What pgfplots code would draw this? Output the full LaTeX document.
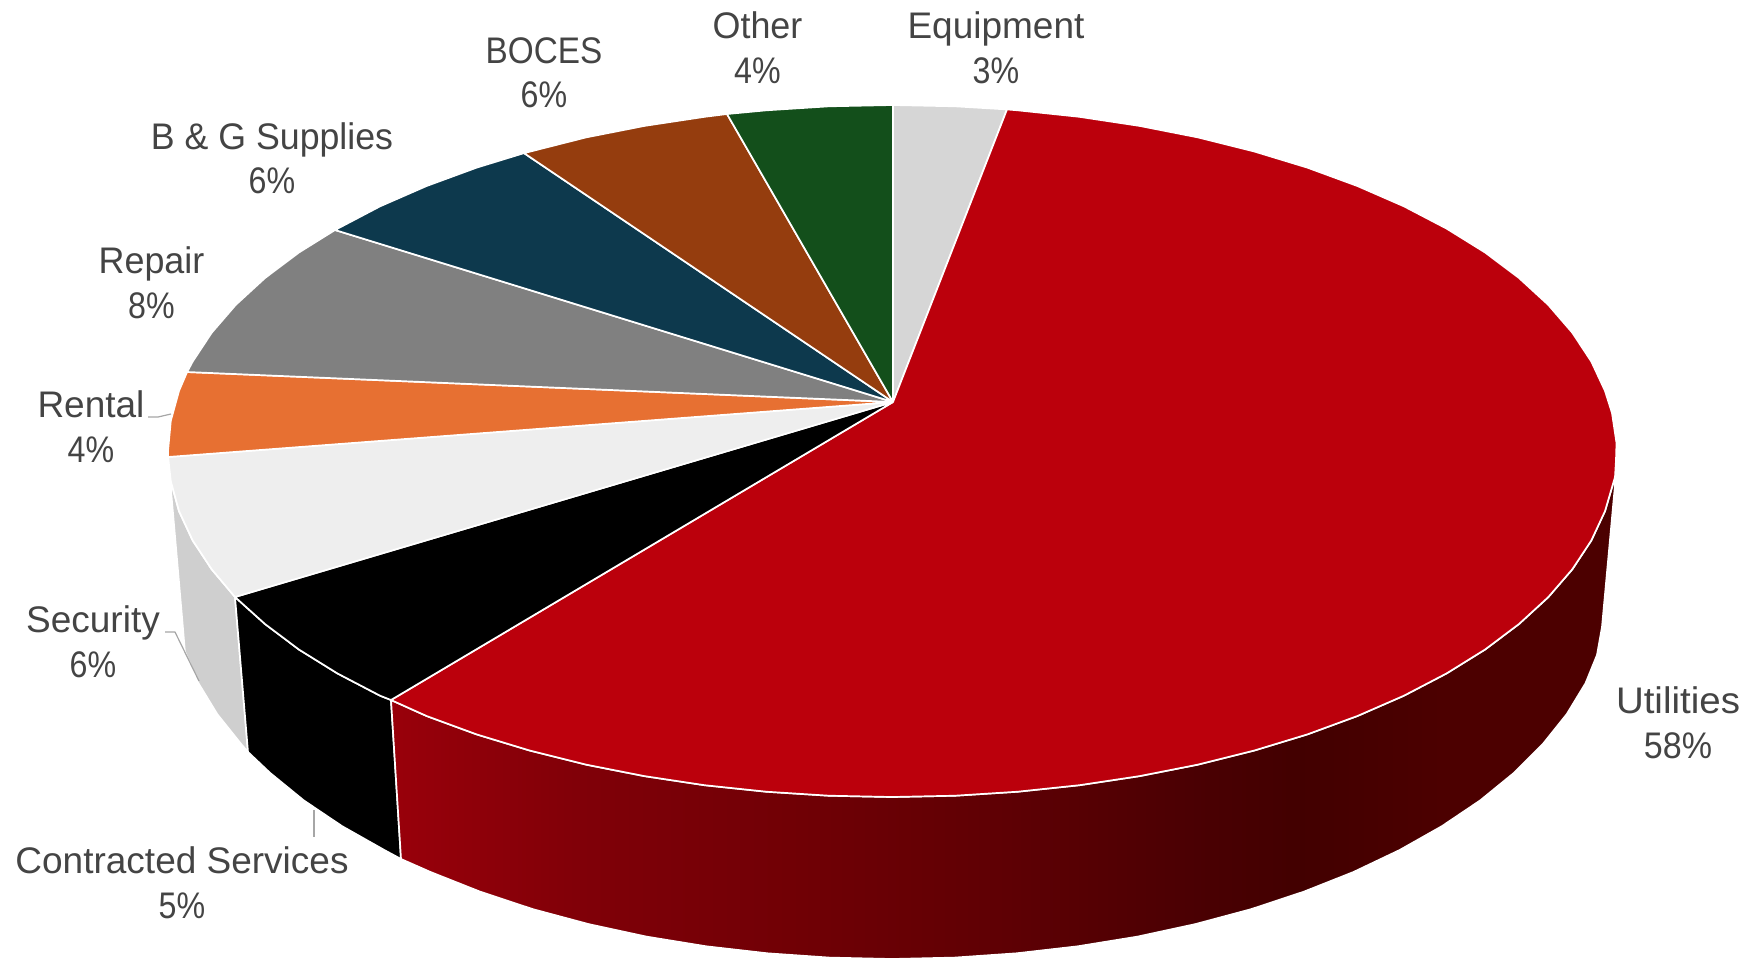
\documentclass[border=0pt]{standalone}
\usepackage{fontspec}
\setmainfont{Liberation Sans}
\usepackage{graphicx}
\usepackage{pgfplots}
\pgfplotsset{compat=1.18}

\definecolor{utilred}{RGB}{187,0,12}
\definecolor{bgblue}{RGB}{13,57,77}
\definecolor{bocesbrown}{RGB}{149,61,14}
\definecolor{othergreen}{RGB}{19,79,27}
\definecolor{equipgrey}{RGB}{214,214,214}
\definecolor{repairgrey}{RGB}{128,128,128}
\definecolor{rentalorange}{RGB}{231,112,50}
\definecolor{secgrey}{RGB}{238,238,238}
\definecolor{secrim}{RGB}{207,207,207}
\definecolor{labeltext}{RGB}{68,68,68}
\definecolor{leader}{RGB}{166,166,166}

% Side wall of the largest slice: dark red running left to right
\pgfdeclarehorizontalshading{utilrim}{100bp}{
  rgb(0bp)=(0.60,0,0.04);
  rgb(25bp)=(0.60,0,0.04);
  rgb(33bp)=(0.50,0,0.03);
  rgb(41.7bp)=(0.44,0,0.02);
  rgb(50bp)=(0.37,0,0.015);
  rgb(58bp)=(0.29,0,0.01);
  rgb(62.2bp)=(0.26,0,0);
  rgb(68.3bp)=(0.30,0,0);
  rgb(75bp)=(0.30,0,0);
  rgb(100bp)=(0.30,0,0)}

% centre x, first baseline, second baseline, name, share, name width factor, share width factor
\newcommand{\pielabel}[7]{%
  \node[anchor=base,text=labeltext] at (axis cs:#1,#2) {\scalebox{#6}[1]{#4}};
  \node[anchor=base,text=labeltext] at (axis cs:#1,#3) {\scalebox{#7}[1]{#5\%}};
}

\begin{document}
\fontsize{18.5pt}{22.5pt}\selectfont
\begin{tikzpicture}
\path[use as bounding box] (0,0) rectangle (878.5pt,480pt);
\begin{axis}[
  at={(0,0)}, anchor=south west,
  scale only axis, width=878.5pt, height=480pt,
  xmin=0, xmax=1757, ymin=0, ymax=960, y dir=reverse,
  hide axis, clip=false,
  every axis plot/.append style={no markers, line join=round, draw=white, line width=0.85pt, solid},
]
% Side walls
\addplot[fill=secrim] coordinates {
  (170.8,481.2) (179,511.1) (192.7,540.5) (211.7,569.3) (235,597)
  (248,752) (241.3,744.2) (217.3,714.2) (198.5,683.3) (184.9,651.6)
  (182,617) (170.8,488) (170.8,481.2)};
\addplot[fill=black] coordinates {
  (235,597) (265,624) (298.9,649.5) (337.4,673.4) (380.1,695.7) (391,700)
  (401,859) (384.3,850) (342,826.1) (303.8,800.4) (270.2,773) (248,752)
  (235,597)};
\addplot[shading=utilrim] coordinates {
  (391,700) (426.6,716) (476.7,734.4) (530,750.6) (586,764.6) (644.4,776.1)
  (704.6,785.2) (766.3,791.7) (828.9,795.7) (892,797) (955.1,795.7)
  (1017.7,791.7) (1079.4,785.2) (1139.6,776.1) (1198,764.6) (1254,750.6)
  (1307.3,734.4) (1357.4,716) (1403.9,695.7) (1446.6,673.4) (1485.1,649.5)
  (1519,624) (1548.2,597.2) (1572.3,569.3) (1591.3,540.5) (1605,511.1)
  (1615,477) (1615,485) (1602,627) (1597,655) (1585.5,683.3)
  (1566.7,714.2) (1542.7,744.2) (1513.8,773) (1480.2,800.4) (1442,826.1)
  (1399.7,850) (1353.5,872) (1303.8,891.7) (1251,909.2) (1195.4,924.1)
  (1137.6,936.6) (1077.8,946.3) (1016.6,953.3) (954.6,957.6) (892,959)
  (829.4,957.6) (767.4,953.3) (706.2,946.3) (646.4,936.6) (588.6,924.1)
  (533,909.2) (480.2,891.7) (430.5,872) (401,859) (391,700)};
% Top face, one wedge per category
\addplot[fill=equipgrey] coordinates {
  (893,402) (893,105) (955.1,106.3) (1007,109.4) (893,402)};
\addplot[fill=utilred] coordinates {
  (893,402) (1007,109.4) (1017.7,110.3) (1079.4,116.8) (1139.6,125.9)
  (1198,137.4) (1254,151.4) (1307.3,167.6) (1357.4,186) (1403.9,206.3)
  (1446.6,228.6) (1485.1,252.5) (1519,278) (1548.2,304.8) (1572.3,332.7)
  (1591.3,361.5) (1605,390.9) (1612,413) (1616.5,443) (1616,460) (1615,477)
  (1605,511.1) (1591.3,540.5) (1572.3,569.3) (1548.2,597.2) (1519,624)
  (1485.1,649.5) (1446.6,673.4) (1403.9,695.7) (1357.4,716) (1307.3,734.4)
  (1254,750.6) (1198,764.6) (1139.6,776.1) (1079.4,785.2) (1017.7,791.7)
  (955.1,795.7) (892,797) (828.9,795.7) (766.3,791.7) (704.6,785.2)
  (644.4,776.1) (586,764.6) (530,750.6) (476.7,734.4) (426.6,716) (391,700)
  (893,402)};
\addplot[fill=black] coordinates {
  (893,402) (391,700) (380.1,695.7) (337.4,673.4) (298.9,649.5) (265,624)
  (235,597) (893,402)};
\addplot[fill=secgrey] coordinates {
  (893,402) (235,597) (211.7,569.3) (192.7,540.5) (179,511.1)
  (170.8,481.2) (168.1,457) (893,402)};
\addplot[fill=rentalorange] coordinates {
  (893,402) (168.1,457) (168,451) (170.8,420.8) (179,390.9) (187.1,372)
  (893,402)};
\addplot[fill=repairgrey] coordinates {
  (893,402) (187.1,372) (192.7,361.5) (211.7,332.7) (235.8,304.8) (265,278)
  (298.9,252.5) (335,230) (893,402)};
\addplot[fill=bgblue] coordinates {
  (893,402) (335,230) (380.1,206.3) (426.6,186) (476.7,167.6) (524,153.1)
  (893,402)};
\addplot[fill=bocesbrown] coordinates {
  (893,402) (524,153.1) (586,137.4) (644.4,125.9) (704.6,116.8) (727,114)
  (893,402)};
\addplot[fill=othergreen] coordinates {
  (893,402) (727,114) (766.3,110.3) (828.9,106.3) (893,105) (893,402)};
% Leader lines
\addplot[draw=leader, line width=0.6pt] coordinates {(148,417) (158,417) (171,414)};
\addplot[draw=leader, line width=0.6pt] coordinates {(165,632) (175,632) (199,681)};
\addplot[draw=leader, line width=0.6pt] coordinates {(314,810) (314,837)};
% Category labels
\pielabel{996}{38}{83}{Equipment}{3}{1}{0.87}
\pielabel{757.5}{38}{83}{Other}{4}{0.97}{0.87}
\pielabel{544}{63}{107}{BOCES}{6}{0.9}{0.87}
\pielabel{272}{149}{193}{B \& G Supplies}{6}{0.965}{0.87}
\pielabel{151.5}{273}{318}{Repair}{8}{0.97}{0.87}
\pielabel{91}{417}{462}{Rental}{4}{1}{0.87}
\pielabel{93}{632}{677}{Security}{6}{1}{0.87}
\pielabel{182}{873}{918}{Contracted Services}{5}{1}{0.87}
\pielabel{1678}{713}{758}{Utilities}{58}{1.04}{0.92}
\end{axis}
\end{tikzpicture}
\end{document}
